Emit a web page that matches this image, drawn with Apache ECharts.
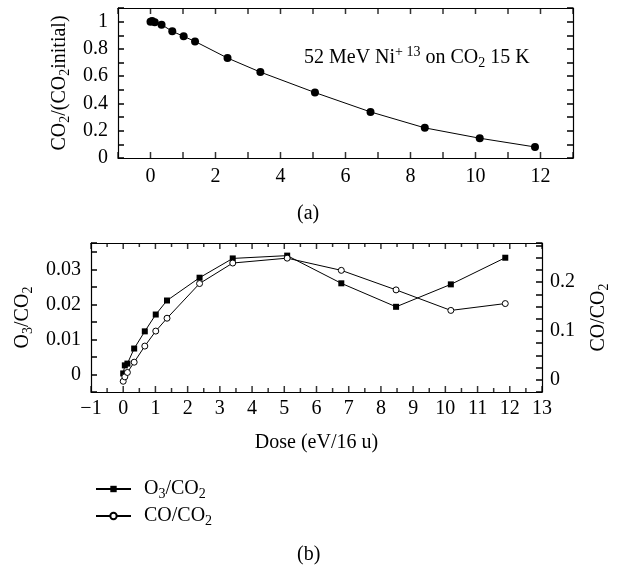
<!DOCTYPE html>
<html><head><meta charset="utf-8">
<script src="https://cdn.jsdelivr.net/npm/echarts@6/dist/echarts.min.js"></script>
<style>html,body{margin:0;padding:0;background:#fff}#c{width:619px;height:567px}</style>
</head><body><div id="c"></div>
<script>
// ---- Panel (a) data ----
const doseA = [0, 0.05, 0.13, 0.34, 0.67, 1.02, 1.37, 2.37, 3.38, 5.06, 6.77, 8.44, 10.13, 11.83];
const co2Ratio = [1.0, 1.005, 0.995, 0.978, 0.929, 0.892, 0.855, 0.733, 0.630, 0.480, 0.338, 0.221, 0.145, 0.081];
// ---- Panel (b) data ----
const doseB = [0, 0.05, 0.13, 0.34, 0.67, 1.01, 1.36, 2.37, 3.40, 5.09, 6.77, 8.47, 10.17, 11.86];
const o3Ratio = [0.0003, 0.0026, 0.0031, 0.0074, 0.0123, 0.0171, 0.0211, 0.0276, 0.0331, 0.0339, 0.0260, 0.0193, 0.0257, 0.0333];
const coRatio = [-0.003, 0.006, 0.015, 0.036, 0.069, 0.0997, 0.126, 0.197, 0.239, 0.249, 0.224, 0.184, 0.142, 0.156];
// ---- Tick positions and labels ----
const xTicksMajor = [-1, 0, 1, 2, 3, 4, 5, 6, 7, 8, 9, 10, 11, 12, 13];
const xTicksHalf = [-0.5, 0.5, 1.5, 2.5, 3.5, 4.5, 5.5, 6.5, 7.5, 8.5, 9.5, 10.5, 11.5, 12.5];
const xLabelsA = [0, 2, 4, 6, 8, 10, 12];
const xLabelsB = [-1, 0, 1, 2, 3, 4, 5, 6, 7, 8, 9, 10, 11, 12, 13];
const yLabelsA = [0, 0.2, 0.4, 0.6, 0.8, 1];
const yLabelsO3 = [0, 0.01, 0.02, 0.03];
const yLabelsCO = [0, 0.1, 0.2];

const FONT = '"Liberation Serif", "DejaVu Serif", serif';
const BLACK = '#000';
const FS = 20;
const near = (v, list) => list.find(t => Math.abs(v - t) < 1e-7);
const num = v => (v < 0 ? '\u2212' + Math.abs(v) : String(v));
const labelFrom = list => v => { const t = near(v, list); return t === undefined ? '' : num(t); };

const subRich = {
  s: {fontFamily: FONT, fontSize: 14, color: BLACK, verticalAlign: 'bottom', lineHeight: 15},
  p: {fontFamily: FONT, fontSize: 14, color: BLACK, verticalAlign: 'top', lineHeight: 15}
};
const nameStyle = {fontFamily: FONT, fontSize: FS, color: BLACK, lineHeight: 25, rich: subRich};
const axLine = {show: true, onZero: false, lineStyle: {color: BLACK, width: 1.2}};
const tick = {show: true, inside: true, length: 6, lineStyle: {color: BLACK, width: 1.5}};
const lab = {fontFamily: FONT, fontSize: FS, color: BLACK};

// x-axis tick marks drawn as thin rect symbols placed through the axes' own scales
const tickSeries = (xi, yi, vals, yEdge, len, up) => ({
  type: 'scatter', xAxisIndex: xi, yAxisIndex: yi, silent: true, clip: false, z: 5,
  symbol: 'rect', symbolSize: [1.5, len], symbolOffset: [0, up ? -len / 2 : len / 2],
  itemStyle: {color: BLACK}, data: vals.map(v => [v, yEdge]), tooltip: {show: false}
});

const chart = echarts.init(document.getElementById('c'));
chart.setOption({
  backgroundColor: '#fff',
  animation: false,
  grid: [
    {left: 118, top: 8, width: 455, height: 150},
    {left: 91, top: 243, width: 455, height: 149}
  ],
  xAxis: [
    {gridIndex: 0, type: 'value', position: 'bottom', min: -1, max: 13, interval: 1,
     axisLine: axLine, axisTick: {show: false}, splitLine: {show: false},
     axisLabel: Object.assign({margin: 9, formatter: labelFrom(xLabelsA)}, lab)},
    {gridIndex: 0, type: 'value', position: 'top', min: -1, max: 13, interval: 1,
     axisLine: axLine, axisTick: {show: false}, splitLine: {show: false}, axisLabel: {show: false}},
    {gridIndex: 1, type: 'value', position: 'bottom', min: -1, max: 13, interval: 1,
     axisLine: axLine, axisTick: {show: false}, splitLine: {show: false},
     axisLabel: Object.assign({margin: 7, formatter: labelFrom(xLabelsB)}, lab),
     name: 'Dose (eV/16 u)', nameLocation: 'middle', nameGap: 38, nameTextStyle: nameStyle},
    {gridIndex: 1, type: 'value', position: 'top', min: -1, max: 13, interval: 1,
     axisLine: axLine, axisTick: {show: false}, splitLine: {show: false}, axisLabel: {show: false}}
  ],
  yAxis: [
    {gridIndex: 0, type: 'value', position: 'left', min: 0, max: 1.1, interval: 0.1,
     axisLine: axLine, axisTick: tick, splitLine: {show: false},
     axisLabel: Object.assign({margin: 10, formatter: labelFrom(yLabelsA)}, lab),
     name: 'CO{s|2}/(CO{s|2}initial)', nameLocation: 'middle', nameGap: 45, nameRotate: 90,
     nameTextStyle: nameStyle},
    {gridIndex: 0, type: 'value', position: 'right', min: 0, max: 1.1, interval: 0.1,
     axisLine: axLine, axisTick: tick, splitLine: {show: false}, axisLabel: {show: false}},
    {gridIndex: 1, type: 'value', position: 'left', min: -0.005, max: 0.0375, interval: 0.005,
     axisLine: axLine, axisTick: tick, splitLine: {show: false},
     axisLabel: Object.assign({margin: 10, formatter: labelFrom(yLabelsO3)}, lab),
     name: 'O{s|3}/CO{s|2}', nameLocation: 'middle', nameGap: 52, nameRotate: 90,
     nameTextStyle: nameStyle},
    {gridIndex: 1, type: 'value', position: 'right', min: -0.025, max: 0.28, interval: 0.025,
     axisLine: axLine, axisTick: tick, splitLine: {show: false},
     axisLabel: Object.assign({margin: 8, formatter: labelFrom(yLabelsCO)}, lab),
     name: 'CO/CO{s|2}', nameLocation: 'middle', nameGap: 44, nameRotate: 90,
     nameTextStyle: nameStyle}
  ],
  legend: {
    orient: 'vertical', left: 90, top: 472, itemWidth: 35, itemHeight: 8, itemGap: 3,
    data: ['O3/CO2', 'CO/CO2'],
    formatter: n => n === 'O3/CO2' ? 'O{s|3}/CO{s|2}' : 'CO/CO{s|2}',
    textStyle: {fontFamily: FONT, fontSize: FS, color: BLACK, lineHeight: 24, padding: [0, 0, 0, 8], rich: subRich}
  },
  graphic: [
    {type: 'text', left: 304, top: 45,
     style: {text: '52 MeV Ni{p|+ 13} on CO{s|2} 15 K', fontFamily: FONT, fontSize: FS, fill: BLACK,
             lineHeight: 25, rich: subRich}},
    {type: 'text', left: 297, top: 204, style: {text: '(a)', fontFamily: FONT, fontSize: FS, fill: BLACK}},
    {type: 'text', left: 297, top: 545, style: {text: '(b)', fontFamily: FONT, fontSize: FS, fill: BLACK}}
  ],
  series: [
    {type: 'line', xAxisIndex: 0, yAxisIndex: 0, symbol: 'circle', symbolSize: 8,
     data: doseA.map((d, i) => [d, co2Ratio[i]]),
     itemStyle: {color: BLACK}, lineStyle: {color: BLACK, width: 1}},
    {type: 'line', name: 'O3/CO2', xAxisIndex: 2, yAxisIndex: 2, symbol: 'rect', symbolSize: 6,
     data: doseB.map((d, i) => [d, o3Ratio[i]]),
     itemStyle: {color: BLACK}, lineStyle: {color: BLACK, width: 1}},
    {type: 'line', name: 'CO/CO2', xAxisIndex: 2, yAxisIndex: 3, symbol: 'circle', symbolSize: 6,
     data: doseB.map((d, i) => [d, coRatio[i]]),
     itemStyle: {color: '#fff', borderColor: BLACK, borderWidth: 1}, lineStyle: {color: BLACK, width: 1}},
    // tick marks: panel (a)
    tickSeries(0, 0, xTicksMajor, 0, 6, true),
    tickSeries(0, 0, xTicksMajor, 1.1, 6, false),
    // tick marks: panel (b)
    tickSeries(2, 2, xTicksMajor, -0.005, 6, true),
    tickSeries(2, 2, xTicksHalf, -0.005, 4, true),
    tickSeries(2, 2, xTicksMajor, 0.0375, 6, false),
    tickSeries(2, 2, xTicksHalf, 0.0375, 4, false)
  ]
});
</script></body></html>
